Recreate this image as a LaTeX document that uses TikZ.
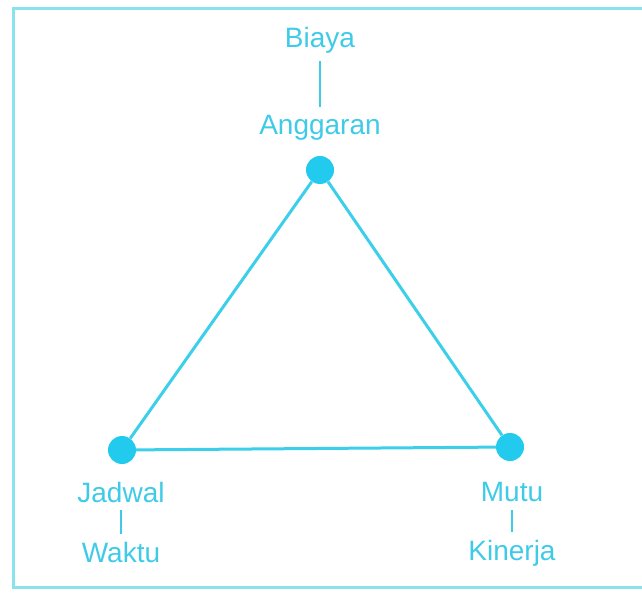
\documentclass[tikz,border=0pt]{standalone}
\usepackage{fontspec}
\setmainfont{Liberation Sans}
\definecolor{tricyan}{HTML}{3CCFEA}
\definecolor{dotcyan}{HTML}{22CBEE}
\definecolor{txtcyan}{HTML}{3FCBE8}
\definecolor{framecyan}{HTML}{8AE2EC}
\tikzset{
  dot/.style={circle, fill=dotcyan, inner sep=0pt, minimum size=28pt},
  lbl/.style={text=txtcyan, inner sep=3pt, font=\fontsize{28}{32}\selectfont},
  edge/.style={draw=tricyan, line width=3pt},
  link/.style={draw=txtcyan, line width=1.5pt, shorten <=5pt, shorten >=5pt}
}
\begin{document}
\begin{tikzpicture}[x=1pt, y=-1pt]

% frame and page
\useasboundingbox (0,0) rectangle (642,593);
\draw[framecyan, line width=3pt] (642,9) -- (13,9) -- (13,587) -- (642,587);

% ----------------------------------------------------
% corners of the triangle
% ----------------------------------------------------
\node[dot] (anggaran) at (320,170) {};
\node[dot] (jadwal) at (122,450) {};
\node[dot] (mutu) at (510,447) {};

\draw[edge] (anggaran) -- (jadwal);
\draw[edge] (anggaran) -- (mutu);
\draw[edge] (jadwal) -- (mutu);

% ----------------------------------------------------
% labels
% ----------------------------------------------------
\node[lbl] (biaya) at (320,40) {Biaya};
\node[lbl] (anggaranlbl) at (320,128) {Anggaran};
\node[lbl] (jadwallbl) at (121,492) {Jadwal};
\node[lbl] (waktu) at (121,552) {Waktu};
\node[lbl] (mutulbl) at (512,492) {Mutu};
\node[lbl] (kinerja) at (512,553) {Kinerja};

\draw[link] (biaya.south) -- (anggaranlbl.north);
\draw[link] (jadwallbl.south) -- (waktu.north);
\draw[link] (mutulbl.south) -- (kinerja.north);

\end{tikzpicture}
\end{document}
